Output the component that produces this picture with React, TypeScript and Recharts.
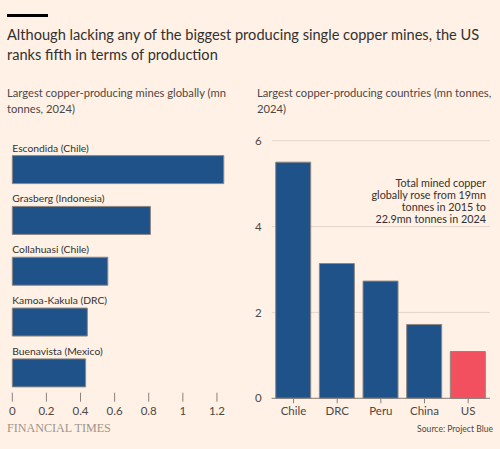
import React from "react";
import { BarChart, Bar, XAxis, YAxis, CartesianGrid, Cell, LabelList } from "recharts";

const mineNames = [
  "Escondida (Chile)",
  "Grasberg (Indonesia)",
  "Collahuasi (Chile)",
  "Kamoa-Kakula (DRC)",
  "Buenavista (Mexico)",
];
const mineOutput = [1.24, 0.81, 0.56, 0.44, 0.43];
const mineTicks = [0, 0.2, 0.4, 0.6, 0.8, 1, 1.2];

const countries = ["Chile", "DRC", "Peru", "China", "US"];
const countryOutput = [5.5, 3.14, 2.73, 1.72, 1.09];
const countryTicks = [0, 2, 4, 6];

const note = [
  "Total mined copper",
  "globally rose from 19mn",
  "tonnes in 2015 to",
  "22.9mn tonnes in 2024",
];

const BG = "#fff1e5";
const BLUE = "#1f5289";
const RED = "#f2505f";
const TEXT = "#33302e";
const SUB = "#4d4845";
const FONT = "Lato, 'Noto Sans', sans-serif";

const mineData = mineNames.map((name, i) => ({ name, value: mineOutput[i] }));
const countryData = countries.map((name, i) => ({ name, value: countryOutput[i] }));

function MineTick(props: any) {
  const { x, y, payload } = props;
  return (
    <g>
      <line x1={x} x2={x} y1={y - 6} y2={y + 3} stroke="#8a827c" />
      <text x={x} y={y + 16.5} textAnchor="middle" fontSize={11.5} fill={SUB} fontFamily={FONT}>
        {payload.value}
      </text>
    </g>
  );
}

function MineLabel(props: any) {
  const { x, y, value } = props;
  return (
    <text x={x} y={y - 4} fontSize={10.3} fill={TEXT} fontFamily={FONT}>
      {value}
    </text>
  );
}

export default function App() {
  return (
    <div
      style={{
        position: "fixed",
        left: 0,
        top: 0,
        width: 500,
        height: 449,
        background: BG,
        fontFamily: FONT,
        overflow: "hidden",
      }}
    >
      <div style={{ position: "absolute", left: 7, top: 14, width: 41, height: 3, background: "#000" }} />
      <div
        style={{
          position: "absolute",
          left: 7,
          top: 25,
          fontSize: 14.6,
          lineHeight: "20px",
          color: TEXT,
          whiteSpace: "nowrap",
        }}
      >
        Although lacking any of the biggest producing single copper mines, the US
        <br />
        ranks fifth in terms of production
      </div>
      <div
        style={{
          position: "absolute",
          left: 7,
          top: 85,
          fontSize: 11.2,
          lineHeight: "16px",
          color: SUB,
          whiteSpace: "nowrap",
        }}
      >
        Largest copper-producing mines globally (mn
        <br />
        tonnes, 2024)
      </div>
      <div
        style={{
          position: "absolute",
          left: 257,
          top: 85,
          fontSize: 11.2,
          lineHeight: "16px",
          color: SUB,
          whiteSpace: "nowrap",
        }}
      >
        Largest copper-producing countries (mn tonnes,
        <br />
        2024)
      </div>

      <div style={{ position: "absolute", left: 0, top: 0 }}>
        <BarChart
          width={250}
          height={449}
          data={mineData}
          layout="vertical"
          margin={{ top: 144.6, right: 16, bottom: 20.3, left: 12.3 }}
          barSize={28}
        >
          <XAxis
            type="number"
            domain={[0, 1.3]}
            ticks={mineTicks}
            axisLine={false}
            tickLine={false}
            tickSize={0}
            tickMargin={0}
            height={30}
            tick={<MineTick />}
            interval={0}
          />
          <YAxis type="category" dataKey="name" hide />
          <Bar dataKey="value" fill={BLUE} stroke="#8f8780" strokeWidth={1} isAnimationActive={false}>
            <LabelList dataKey="name" content={<MineLabel />} />
          </Bar>
        </BarChart>
      </div>

      <div style={{ position: "absolute", left: 250, top: 0 }}>
        <BarChart
          width={250}
          height={449}
          data={countryData}
          margin={{ top: 140.7, right: 10, bottom: 20.7, left: 0 }}
          barSize={35}
        >
          <CartesianGrid vertical={false} stroke="#e3d6ca" />
          <XAxis
            dataKey="name"
            axisLine={{ stroke: "#8a827c" }}
            tickLine={{ stroke: "#8a827c" }}
            tickSize={5}
            tickMargin={4}
            height={30}
            tick={{ fontSize: 11.5, fill: SUB, fontFamily: FONT }}
            interval={0}
          />
          <YAxis
            domain={[0, 6]}
            ticks={countryTicks}
            width={21.7}
            axisLine={false}
            tickLine={false}
            tickSize={0}
            tickMargin={10}
            tick={{ fontSize: 11.5, fill: SUB, fontFamily: FONT }}
          />
          <Bar dataKey="value" stroke="#8f8780" strokeWidth={1} isAnimationActive={false}>
            {countryData.map((d) => (
              <Cell key={d.name} fill={d.name === "US" ? RED : BLUE} />
            ))}
          </Bar>
        </BarChart>
      </div>

      <div
        style={{
          position: "absolute",
          right: 14,
          top: 177,
          textAlign: "right",
          fontSize: 10.8,
          lineHeight: "12px",
          color: TEXT,
        }}
      >
        {note.map((l) => (
          <div key={l}>{l}</div>
        ))}
      </div>

      <div
        style={{
          position: "absolute",
          left: 7,
          top: 421,
          fontFamily: "'Liberation Serif', 'DejaVu Serif', serif",
          fontSize: 12.1,
          color: "#9e958d",
        }}
      >
        FINANCIAL TIMES
      </div>
      <div
        style={{
          position: "absolute",
          right: 7,
          top: 424,
          fontSize: 8.6,
          color: SUB,
        }}
      >
        Source: Project Blue
      </div>
    </div>
  );
}
